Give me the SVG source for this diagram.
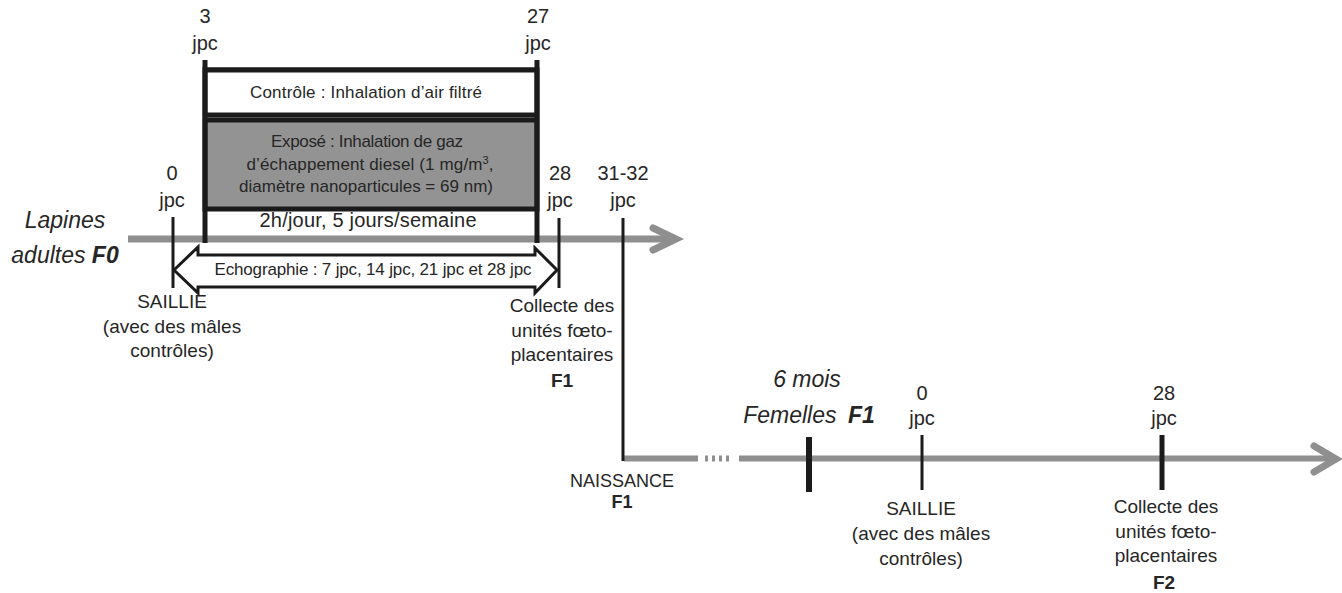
<svg xmlns="http://www.w3.org/2000/svg" width="1342" height="593" viewBox="0 0 1342 593">
<style>
text{font-family:"Liberation Sans",Arial,sans-serif;fill:#262626;text-anchor:middle}
.lbl{font-size:20px}
.ml{font-size:19px}
.box{font-size:17px}
.big{font-size:23px;font-style:italic}
.b{font-weight:bold}
.gray{stroke:#8f8f8f;fill:none}
.blk{stroke:#1b1b1b;fill:none}
</style>
<rect width="1342" height="593" fill="#fff"/>
<g id="connectors">
  <line class="gray" x1="128" y1="239" x2="672" y2="239" stroke-width="7"/>
  <polyline class="gray" points="653,228 676,239 653,250" stroke-width="7" stroke-linecap="round" stroke-linejoin="miter"/>
  <line class="gray" x1="624" y1="458.5" x2="698" y2="458.5" stroke-width="6"/>
  <line class="gray" x1="705" y1="458.5" x2="731" y2="458.5" stroke-width="6" stroke-dasharray="3,4" stroke="#a8a8a8"/>
  <line class="gray" x1="739" y1="458.5" x2="1332" y2="458.5" stroke-width="6"/>
  <polyline class="gray" points="1314,446 1336,459 1314,472" stroke-width="7" stroke-linecap="round"/>
  <line class="blk" x1="623" y1="218" x2="623" y2="461" stroke-width="3"/>
</g>
<g id="exposure-period">
  <line class="blk" x1="205" y1="70" x2="537" y2="70" stroke-width="5"/>
  <rect id="controle" x="205" y="70" width="332" height="45" fill="#fff" stroke="#1b1b1b" stroke-width="5"/>
  <rect id="expose" x="205" y="120" width="332" height="89" fill="#939393" stroke="#1b1b1b" stroke-width="5"/>
  <line class="blk" x1="205" y1="60" x2="205" y2="243" stroke-width="5"/>
  <line class="blk" x1="537" y1="60" x2="537" y2="243" stroke-width="5"/>
  <text class="box" x="366" y="98" textLength="232" lengthAdjust="spacing">Contrôle : Inhalation d’air  filtré</text>
  <text class="box" x="367" y="147" textLength="192" lengthAdjust="spacing">Exposé : Inhalation de gaz</text>
  <text class="box" x="370" y="170" textLength="247" lengthAdjust="spacing">d’échappement diesel (1 mg/m<tspan font-size="11" dy="-6">3</tspan><tspan dy="6">,</tspan></text>
  <text class="box" x="366" y="192" textLength="254" lengthAdjust="spacing">diamètre nanoparticules = 69 nm)</text>
  <text class="lbl" x="368" y="227" textLength="217" lengthAdjust="spacing">2h/jour, 5 jours/semaine</text>
  <text class="lbl" x="205" y="23">3</text>
  <text class="lbl" x="205" y="50">jpc</text>
  <text class="lbl" x="538" y="23">27</text>
  <text class="lbl" x="538" y="50">jpc</text>
</g>
<g id="echographie">
  <polygon points="174,270 198,247 198,255 535,255 535,248 557,270 535,293 535,287 198,287 198,293" fill="#fff" stroke="#1b1b1b" stroke-width="3"/>
  <text class="box" x="373" y="275" textLength="317" lengthAdjust="spacing">Echographie : 7 jpc, 14 jpc, 21 jpc et 28 jpc</text>
</g>
<g id="lapines-f0">
  <text class="big" x="65" y="228">Lapines</text>
  <text class="big" x="65" y="263">adultes <tspan class="b">F0</tspan></text>
</g>
<g id="saillie-f0">
  <line class="blk" x1="173" y1="217" x2="173" y2="288" stroke-width="3"/>
  <text class="lbl" x="172" y="180">0</text>
  <text class="lbl" x="172" y="207">jpc</text>
  <text class="ml" x="172" y="308">SAILLIE</text>
  <text class="ml" x="172" y="333">(avec des mâles</text>
  <text class="ml" x="172" y="357">contrôles)</text>
</g>
<g id="collecte-f1">
  <line class="blk" x1="559" y1="218" x2="559" y2="288" stroke-width="3"/>
  <text class="lbl" x="560" y="180">28</text>
  <text class="lbl" x="560" y="207">jpc</text>
  <text class="ml" x="562" y="312">Collecte des</text>
  <text class="ml" x="562" y="337">unités fœto-</text>
  <text class="ml" x="562" y="361">placentaires</text>
  <text class="ml b" x="562" y="387">F1</text>
</g>
<g id="naissance-f1">
  <text class="lbl" x="623" y="180">31-32</text>
  <text class="lbl" x="623" y="207">jpc</text>
  <text x="622" y="487" font-size="18">NAISSANCE</text>
  <text class="b" x="622" y="508" font-size="18">F1</text>
</g>
<g id="femelles-f1">
  <line class="blk" x1="809" y1="437" x2="809" y2="492" stroke-width="6"/>
  <text class="big" x="807" y="387" font-size="21">6 mois</text>
  <text class="big" x="809" y="423" font-size="21">Femelles <tspan class="b" dx="5">F1</tspan></text>
</g>
<g id="saillie-f1">
  <line class="blk" x1="922" y1="435" x2="922" y2="490" stroke-width="3"/>
  <text class="lbl" x="922" y="400">0</text>
  <text class="lbl" x="922" y="425">jpc</text>
  <text class="ml" x="921" y="515">SAILLIE</text>
  <text class="ml" x="921" y="540">(avec des mâles</text>
  <text class="ml" x="921" y="565">contrôles)</text>
</g>
<g id="collecte-f2">
  <line class="blk" x1="1162" y1="435" x2="1162" y2="490" stroke-width="5"/>
  <text class="lbl" x="1164" y="400">28</text>
  <text class="lbl" x="1164" y="425">jpc</text>
  <text class="ml" x="1166" y="513">Collecte des</text>
  <text class="ml" x="1166" y="538">unités fœto-</text>
  <text class="ml" x="1166" y="562">placentaires</text>
  <text class="ml b" x="1164" y="589">F2</text>
</g>
</svg>
